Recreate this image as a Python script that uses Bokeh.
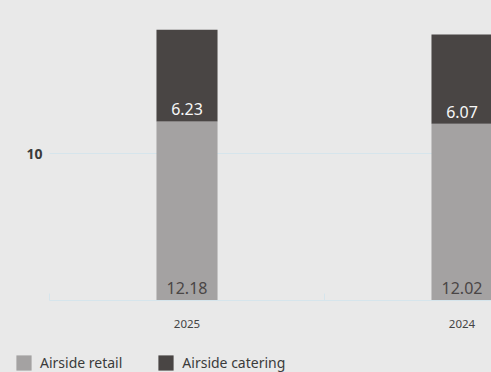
from bokeh.plotting import figure
from bokeh.layouts import column
from bokeh.models import ColumnDataSource, Range1d, FixedTicker, Legend, LegendItem
from bokeh.core.properties import value
from bokeh.embed import file_html
from bokeh.resources import INLINE

years = ["2025", "2024"]
retail = [12.18, 12.02]
catering = [6.23, 6.07]
y_ticks = [10]
series_names = ["Airside retail", "Airside catering"]

FONT = "Noto Sans"
BG = "#e9e9e9"
C_RETAIL = "#a4a2a2"
C_CATER = "#494544"
GRID = "#d6e5ec"

n = len(years)
xpos = [i + 0.5 for i in range(n)]
src = ColumnDataSource(dict(
    x=xpos,
    year=years,
    retail=retail,
    catering=catering,
    total=[r + c for r, c in zip(retail, catering)],
    zero=[0] * n,
    retail_lbl=[f"{v:.2f}" for v in retail],
    cater_lbl=[f"{v:.2f}" for v in catering],
))
tick_src = ColumnDataSource(dict(
    y=y_ticks,
    x0=[0] * len(y_ticks),
    x1=[n] * len(y_ticks),
    lbl=[str(t) for t in y_ticks],
))

PX_PER_CAT = 275.0
LEFT = 49.0
p = figure(width=491, height=340, output_backend="svg", toolbar_location=None,
           x_range=Range1d(-LEFT / PX_PER_CAT, (491 - LEFT) / PX_PER_CAT),
           y_range=Range1d(0, 300 / 14.7), y_axis_location=None,
           min_border_left=0, min_border_right=0, min_border_top=0, min_border_bottom=40)
p.background_fill_alpha = 0
p.border_fill_color = BG
p.outline_line_color = None
p.xgrid.grid_line_color = None
p.ygrid.grid_line_color = None

# horizontal grid line(s) starting at the category axis start
p.segment(x0="x0", x1="x1", y0="y", y1="y", source=tick_src,
          line_color=GRID, line_width=1, level="underlay")
# y tick label(s)
p.text(x="x0", y="y", text="lbl", source=tick_src, text_align="right",
       text_baseline="middle", x_offset=-7, text_font=value(FONT),
       text_font_size="14px", text_font_style="bold", text_color="#3b3b3b")

p.vbar(x="x", width=0.222, bottom="zero", top="retail", source=src,
       fill_color=C_RETAIL, line_color=None)
p.vbar(x="x", width=0.222, bottom="retail", top="total", source=src,
       fill_color=C_CATER, line_color=None)

p.text(x="x", y="zero", text="retail_lbl", source=src, text_align="center",
       text_baseline="bottom", y_offset=-7, text_font=value(FONT),
       text_font_size="16px", text_color="#4a4646")
p.text(x="x", y="retail", text="cater_lbl", source=src, text_align="center",
       text_baseline="bottom", y_offset=-6, text_font=value(FONT),
       text_font_size="16px", text_color="#f7f7f7")

# x axis
p.xaxis.bounds = (0, n)
p.xaxis.ticker = FixedTicker(ticks=xpos, minor_ticks=list(range(n + 1)))
p.xaxis.major_label_overrides = {x: y for x, y in zip(xpos, years)}
p.xaxis.axis_line_color = GRID
p.xaxis.major_tick_line_color = None
p.xaxis.minor_tick_line_color = GRID
p.xaxis.minor_tick_in = 7
p.xaxis.minor_tick_out = 0
p.xaxis.major_label_standoff = 13
p.xaxis.major_label_text_font = FONT
p.xaxis.major_label_text_font_size = "11.5px"
p.xaxis.major_label_text_color = "#444444"

# legend strip (its bars sit outside the visible y range; only the swatches show)
lg = figure(width=491, height=32, output_backend="svg", toolbar_location=None,
            x_range=Range1d(0, 1), y_range=Range1d(100, 101),
            x_axis_location=None, y_axis_location=None,
            min_border_left=0, min_border_right=0, min_border_top=0, min_border_bottom=0)
lg.background_fill_alpha = 0
lg.border_fill_color = BG
lg.outline_line_color = None
lg.xgrid.grid_line_color = None
lg.ygrid.grid_line_color = None
g1 = lg.vbar(x="x", top="retail", bottom="zero", width=0.1, source=src,
             fill_color=C_RETAIL, line_color=None)
g2 = lg.vbar(x="x", top="total", bottom="retail", width=0.1, source=src,
             fill_color=C_CATER, line_color=None)

legend = Legend(items=[LegendItem(label=series_names[0], renderers=[g1]),
                       LegendItem(label=series_names[1], renderers=[g2])],
                orientation="horizontal", location=(14, 0),
                glyph_width=19, glyph_height=19, label_standoff=7, spacing=34,
                padding=0, margin=0, background_fill_alpha=0, border_line_color=None,
                label_text_font=FONT, label_text_font_size="14px",
                label_text_color="#3b3b3b")
lg.add_layout(legend, "center")

layout = column(p, lg, spacing=0, styles={"background-color": BG})
open("out.html", "w").write(file_html(layout, INLINE))
